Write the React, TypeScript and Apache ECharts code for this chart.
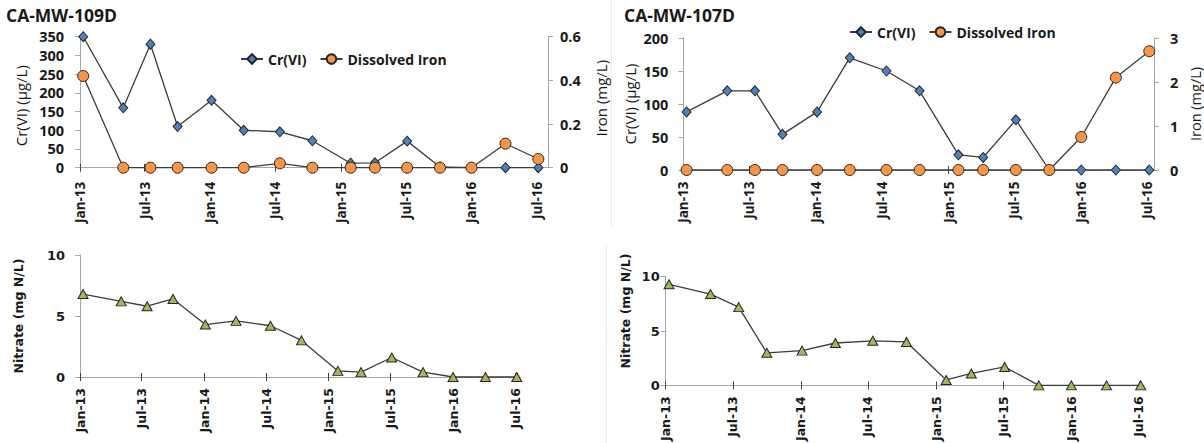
import React, { useEffect, useRef } from 'react';
import * as echarts from 'echarts';

// ---- data ----
const sampleDates = [
  '2013-01-10', '2013-05-02', '2013-07-17', '2013-10-01', '2014-01-04',
  '2014-04-04', '2014-07-14', '2014-10-13', '2015-01-28', '2015-04-06',
  '2015-07-05', '2015-10-05', '2016-01-01', '2016-04-05', '2016-07-06',
];
const tickDates = [
  '2013-01-01', '2013-07-01', '2014-01-01', '2014-07-01',
  '2015-01-01', '2015-07-01', '2016-01-01', '2016-07-01',
];
const tickLabels = ['Jan-13', 'Jul-13', 'Jan-14', 'Jul-14', 'Jan-15', 'Jul-15', 'Jan-16', 'Jul-16'];

const wellTitles = ['CA-MW-109D', 'CA-MW-107D'];
const cr109 = [350, 160, 330, 110, 180, 100, 96, 72, 12, 13, 71, 2, 0, 0, 0];
const iron109 = [0.42, 0, 0, 0, 0, 0, 0.02, 0, 0, 0, 0, 0, 0, 0.11, 0.04];
const nitrate109 = [6.8, 6.2, 5.8, 6.4, 4.3, 4.6, 4.2, 3.0, 0.5, 0.4, 1.6, 0.4, 0, 0, 0];
const cr107 = [88, 120, 120, 54, 88, 170, 150, 120, 23, 19, 76, 0, 0, 0, 0];
const iron107 = [0, 0, 0, 0, 0, 0, 0, 0, 0, 0, 0, 0, 0.75, 2.1, 2.7];
const nitrate107 = [9.3, 8.4, 7.2, 3.0, 3.2, 3.9, 4.1, 4.0, 0.5, 1.1, 1.7, 0, 0, 0, 0];

// ---- helpers ----
const ORIGIN = Date.parse('2013-01-01');
const dayOf = (s: string) => (Date.parse(s) - ORIGIN) / 86400000;
const tickValues = tickDates.map(dayOf);
const fmtTick = (v: number) => {
  const i = tickValues.findIndex((t) => Math.abs(t - v) < 0.5);
  return i >= 0 ? tickLabels[i] : '';
};
const pairs = (vals: number[]) => sampleDates.map((d, i) => [dayOf(d), vals[i]]);

const TXT = '#1a1a1a';
const GRAY = '#a6a6a6';
const LINE = '#3c3c3c';
const TOP_FONT = 'Open Sans';
const BOT_FONT = 'DejaVu Sans';

function xAxes(gridIndex: number, max: number, font: string, size: number, margin: number) {
  const base = {
    type: 'value',
    gridIndex,
    min: 0,
    max,
    position: 'bottom',
    splitLine: { show: false },
  };
  return [
    {
      ...base,
      axisLine: { show: true, onZero: false, lineStyle: { color: GRAY, width: 1 } },
      axisTick: { show: true, customValues: tickValues, length: 4, lineStyle: { color: '#404040' } },
      axisLabel: {
        show: true,
        customValues: tickValues,
        rotate: 90,
        margin,
        formatter: fmtTick,
        fontFamily: font,
        fontWeight: 'bold',
        fontSize: size,
        color: TXT,
      },
    },
    {
      ...base,
      axisLine: { show: false },
      axisTick: { show: true, inside: true, customValues: tickValues, length: 4, lineStyle: { color: '#404040' } },
      axisLabel: { show: false, customValues: tickValues },
    },
  ];
}

function yAxis(o: any) {
  return {
    type: 'value',
    gridIndex: o.grid,
    position: o.pos,
    min: o.min,
    max: o.max,
    interval: o.interval,
    splitLine: { show: false },
    axisLine: { show: true, onZero: false, lineStyle: { color: GRAY, width: 1 } },
    axisTick: { show: true, length: 5, lineStyle: { color: GRAY } },
    axisLabel: {
      margin: o.margin,
      fontFamily: o.font,
      fontWeight: 'bold',
      fontSize: o.size,
      lineHeight: o.size - 2,
      color: TXT,
    },
    name: o.name,
    nameLocation: 'middle',
    nameRotate: 90,
    nameGap: o.nameGap,
    nameTextStyle: {
      fontFamily: o.font,
      fontWeight: o.nameWeight,
      fontSize: o.nameSize,
      lineHeight: o.nameSize,
      color: TXT,
      padding: o.namePad || 0,
    },
  };
}

function lineSeries(name: string, xi: number, yi: number, vals: number[], symbol: string, size: any, color: string, z: number) {
  return {
    type: 'line',
    name,
    xAxisIndex: xi,
    yAxisIndex: yi,
    data: pairs(vals),
    symbol,
    symbolSize: size,
    clip: false,
    z,
    itemStyle: { color, borderColor: '#262626', borderWidth: 1 },
    lineStyle: { color: LINE, width: 1.3 },
    emphasis: { disabled: true },
  };
}

function buildOption() {
  const legendText = { fontFamily: TOP_FONT, fontWeight: 'bold', fontSize: 14, color: TXT };
  const titleText = { fontFamily: TOP_FONT, fontWeight: 'bold', fontSize: 17.5, lineHeight: 16, color: TXT };
  const gridBase = { outerBoundsMode: 'none', containLabel: false };
  return {
    animation: false,
    backgroundColor: '#ffffff',
    title: [
      { text: wellTitles[0], left: 6, top: 6.5, padding: 0, textStyle: titleText },
      { text: wellTitles[1], left: 624, top: 6.5, padding: 0, textStyle: titleText },
    ],
    legend: [
      { data: ['Cr(VI)', 'Dissolved Iron'], left: 240, top: 52, padding: 0, itemWidth: 22, itemHeight: 12, itemGap: 13, textStyle: legendText, selectedMode: false },
      { data: ['Cr(VI)', 'Dissolved Iron'], left: 849, top: 25, padding: 0, itemWidth: 22, itemHeight: 12, itemGap: 13, textStyle: legendText, selectedMode: false },
    ],
    grid: [
      { ...gridBase, left: 80, top: 36.7, width: 468, height: 131 },
      { ...gridBase, left: 683.3, top: 38, width: 470.7, height: 132 },
      { ...gridBase, left: 80, top: 255, width: 440.5, height: 122 },
      { ...gridBase, left: 665.7, top: 276.7, width: 478.3, height: 108.7 },
    ],
    xAxis: [
      ...xAxes(0, 1309, TOP_FONT, 13.5, 14),
      ...xAxes(1, 1295, TOP_FONT, 13.5, 11.5),
      ...xAxes(2, 1293, BOT_FONT, 12.5, 11),
      ...xAxes(3, 1291, BOT_FONT, 12.5, 11),
    ],
    yAxis: [
      yAxis({ grid: 0, pos: 'left', min: 0, max: 350, interval: 50, margin: 16, font: TOP_FONT, size: 14.5, name: 'Cr(VI) (µg/L)', nameGap: 52, nameSize: 15, nameWeight: 'normal', namePad: [0, 7, 0, 0] }),
      yAxis({ grid: 0, pos: 'right', min: 0, max: 0.6, interval: 0.2, margin: 12, font: TOP_FONT, size: 14.5, name: 'Iron (mg/L)', nameGap: 45, nameSize: 15, nameWeight: 'normal', namePad: [0, 0, 0, 8] }),
      yAxis({ grid: 1, pos: 'left', min: 0, max: 200, interval: 50, margin: 15, font: TOP_FONT, size: 14.5, name: 'Cr(VI) (µg/L)', nameGap: 46, nameSize: 15, nameWeight: 'normal' }),
      yAxis({ grid: 1, pos: 'right', min: 0, max: 3, interval: 1, margin: 16, font: TOP_FONT, size: 14.5, name: 'Iron (mg/L)', nameGap: 34, nameSize: 14.5, nameWeight: 'normal' }),
      yAxis({ grid: 2, pos: 'left', min: 0, max: 10, interval: 5, margin: 15, font: BOT_FONT, size: 13, name: 'Nitrate (mg N/L)', nameGap: 55, nameSize: 12.5, nameWeight: 'bold' }),
      yAxis({ grid: 3, pos: 'left', min: 0, max: 10, interval: 5, margin: 6, font: BOT_FONT, size: 13, name: 'Nitrate (mg N/L)', nameGap: 34, nameSize: 12.5, nameWeight: 'bold', namePad: [0, 0, 0, 40] }),
    ],
    series: [
      lineSeries('Cr(VI)', 0, 0, cr109, 'diamond', [9, 10], '#4f81bd', 3),
      lineSeries('Dissolved Iron', 0, 1, iron109, 'circle', 11, '#f79646', 4),
      lineSeries('Cr(VI)', 2, 2, cr107, 'diamond', [9, 10], '#4f81bd', 3),
      lineSeries('Dissolved Iron', 2, 3, iron107, 'circle', 11, '#f79646', 4),
      lineSeries('Nitrate', 4, 4, nitrate109, 'triangle', [10, 9], '#9bbb59', 3),
      lineSeries('Nitrate', 6, 5, nitrate107, 'triangle', [10, 9], '#9bbb59', 3),
    ],
    graphic: [
      { type: 'line', shape: { x1: 611.5, y1: 0, x2: 611.5, y2: 228 }, style: { stroke: '#ededed', lineWidth: 1 }, silent: true },
      { type: 'line', shape: { x1: 606.5, y1: 244, x2: 606.5, y2: 443 }, style: { stroke: '#ededed', lineWidth: 1 }, silent: true },
    ],
  };
}

export default function App() {
  const ref = useRef<HTMLDivElement>(null);
  useEffect(() => {
    if (!ref.current) return;
    const chart = echarts.init(ref.current, null, { renderer: 'svg' });
    chart.setOption(buildOption() as any);
    return () => chart.dispose();
  }, []);
  return (
    <div
      ref={ref}
      style={{ position: 'absolute', left: 0, top: 0, width: 1204, height: 443, background: '#fff' }}
    />
  );
}
